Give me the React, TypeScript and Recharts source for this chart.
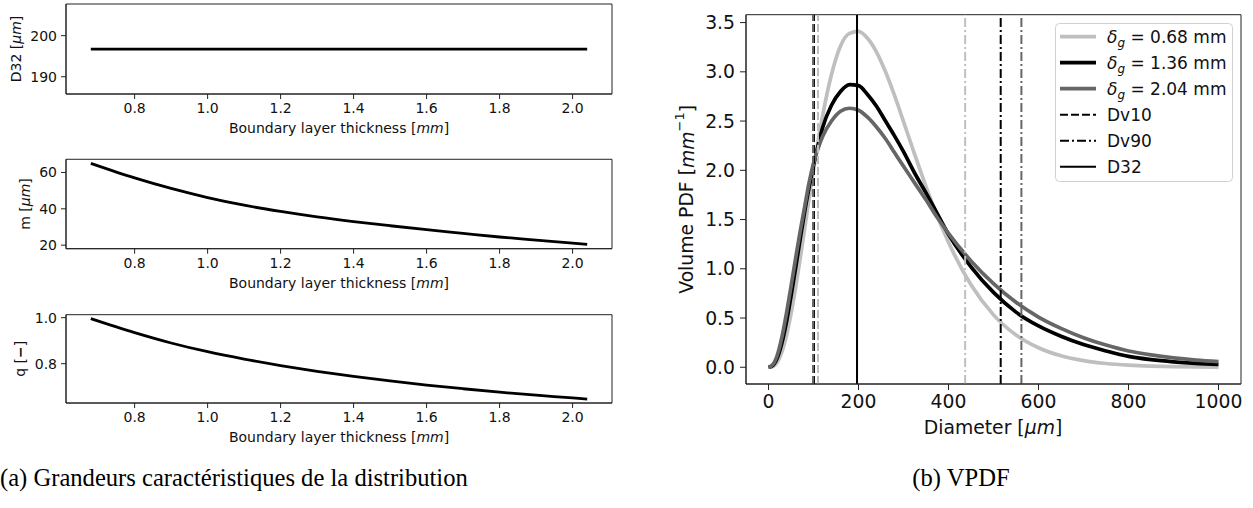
import React from 'react';
import { LineChart, Line, XAxis, YAxis, ReferenceLine, ReferenceArea, Legend, Label } from 'recharts';

const SANS = '"DejaVu Sans", sans-serif';
const SERIF = '"Liberation Serif", serif';

// ---------------- data: left panels ----------------
const thickness = [0.68, 0.8, 0.9, 1.0, 1.1, 1.2, 1.3, 1.4, 1.5, 1.6, 1.7, 1.8, 1.9, 2.0, 2.04];
const d32Values = [196.7, 196.7, 196.7, 196.7, 196.7, 196.7, 196.7, 196.7, 196.7, 196.7, 196.7, 196.7, 196.7, 196.7, 196.7];
const mValues = [65.0, 57.0, 51.2, 46.2, 42.0, 38.6, 35.6, 33.0, 30.7, 28.5, 26.5, 24.5, 22.8, 21.1, 20.4];
const qValues = [0.996, 0.935, 0.89, 0.852, 0.82, 0.792, 0.767, 0.745, 0.725, 0.707, 0.691, 0.676, 0.663, 0.651, 0.646];
const thicknessTicks = [0.8, 1.0, 1.2, 1.4, 1.6, 1.8, 2.0];
const d32Ticks = [190, 200];
const mTicks = [20, 40, 60];
const qTicks = [0.8, 1.0];

// ---------------- data: VPDF ----------------
const diameters = [0, 10, 20, 30, 40, 50, 60, 70, 80, 90, 100, 110, 120, 140, 160, 180, 200, 220, 240, 260, 280, 300, 325, 350, 375, 400, 450, 500, 550, 600, 650, 700, 750, 800, 850, 900, 950, 1000];
const vpdfThin = [0, 0.008, 0.055, 0.159, 0.323, 0.541, 0.801, 1.091, 1.396, 1.704, 2.004, 2.288, 2.548, 2.973, 3.263, 3.39, 3.41, 3.34, 3.2, 3.0, 2.76, 2.495, 2.159, 1.835, 1.537, 1.269, 0.837, 0.532, 0.328, 0.198, 0.116, 0.067, 0.038, 0.0215, 0.012, 0.0066, 0.0036, 0.002];
const vpdfMid = [0, 0.02, 0.1, 0.25, 0.46, 0.72, 1.0, 1.29, 1.57, 1.82, 2.05, 2.25, 2.43, 2.66, 2.8, 2.87, 2.86, 2.77, 2.65, 2.5, 2.35, 2.19, 1.97, 1.77, 1.56, 1.35, 1.02, 0.76, 0.56, 0.42, 0.315, 0.23, 0.165, 0.11, 0.077, 0.055, 0.04, 0.03];
const vpdfThick = [0, 0.03, 0.13, 0.31, 0.55, 0.82, 1.1, 1.37, 1.62, 1.87, 2.07, 2.22, 2.34, 2.5, 2.6, 2.63, 2.61, 2.54, 2.44, 2.32, 2.18, 2.04, 1.87, 1.7, 1.52, 1.36, 1.08, 0.85, 0.66, 0.51, 0.395, 0.3, 0.225, 0.165, 0.125, 0.095, 0.073, 0.057];
const deltaLabels = ['0.68', '1.36', '2.04'];
const seriesColors = ['#bfbfbf', '#000000', '#666666'];
const dv10Values = [110, 101, 99];
const dv90Values = [437, 516, 562];
const d32LineValues = [196.7, 196.7, 196.7];
const diameterTicks = [0, 200, 400, 600, 800, 1000];
const pdfTicks = [0, 0.5, 1.0, 1.5, 2.0, 2.5, 3.0, 3.5];

const SPINE = '#222';
const DASH = '8 3';
const DASHDOT = '9 3 2 3';
const THICK_DOMAIN: [number, number] = [0.612, 2.108];
const DIAM_DOMAIN: [number, number] = [-50, 1050];
const PDF_DOMAIN: [number, number] = [-0.17, 3.58];

type LeftProps = {
  top: number;
  plotTop: number;
  plotHeight: number;
  values: number[];
  domain: [number, number];
  ticks: number[];
  fmt: (v: number) => string;
  ylabel: React.ReactNode;
  ylabelX: number;
};

function LeftPanel({ top, plotTop, plotHeight, values, domain, ticks, fmt, ylabel, ylabelX }: LeftProps) {
  const data = thickness.map((t, i) => ({ t, v: values[i] }));
  const axisH = 50;
  const height = plotTop + plotHeight + axisH;
  const bottom = plotTop + plotHeight;
  const midY = plotTop + plotHeight / 2;
  return (
    <div style={{ position: 'absolute', left: 0, top }}>
      <LineChart width={620} height={height} data={data} margin={{ top: plotTop, right: 8, bottom: 0, left: 0 }}>
        <XAxis
          dataKey="t"
          type="number"
          domain={THICK_DOMAIN}
          ticks={thicknessTicks}
          tickFormatter={(v: number) => v.toFixed(1)}
          height={axisH}
          tickSize={5}
          tickMargin={4}
          stroke={SPINE}
          tick={{ fill: '#111', fontSize: 14, fontFamily: SANS }}
          allowDataOverflow
        >
          <Label
            content={() => (
              <text x={339} y={bottom + 39} textAnchor="middle" fontFamily={SANS} fontSize={14} fill="#111">
                Boundary layer thickness [<tspan fontStyle="italic">mm</tspan>]
              </text>
            )}
          />
        </XAxis>
        <YAxis
          type="number"
          domain={domain}
          ticks={ticks}
          tickFormatter={fmt}
          width={66}
          tickSize={5}
          tickMargin={4}
          stroke={SPINE}
          tick={{ fill: '#111', fontSize: 14, fontFamily: SANS }}
          allowDataOverflow
        >
          <Label
            content={() => (
              <text
                x={ylabelX}
                y={midY}
                transform={`rotate(-90 ${ylabelX} ${midY})`}
                textAnchor="middle"
                dominantBaseline="central"
                fontFamily={SANS}
                fontSize={14}
                fill="#111"
              >
                {ylabel}
              </text>
            )}
          />
        </YAxis>
        <ReferenceArea
          x1={THICK_DOMAIN[0]}
          x2={THICK_DOMAIN[1]}
          y1={domain[0]}
          y2={domain[1]}
          fill="none"
          fillOpacity={0}
          stroke={SPINE}
          strokeWidth={1}
          ifOverflow="visible"
        />
        <Line dataKey="v" type="monotone" stroke="#000" strokeWidth={2.8} dot={false} isAnimationActive={false} />
      </LineChart>
    </div>
  );
}

const LEG_FONT = 17;

function LegendBox() {
  const rowY = (i: number) => 13.7 + i * 26;
  const series = deltaLabels.map((d, i) => (
    <g key={'s' + i}>
      <line x1={5} x2={41} y1={rowY(i)} y2={rowY(i)} stroke={seriesColors[i]} strokeWidth={3.7} />
      <text x={52} y={rowY(i) + 6} fontFamily={SANS} fontSize={LEG_FONT} fill="#111">
        <tspan fontStyle="italic">δ</tspan>
        <tspan fontStyle="italic" fontSize={12} dy={4.5}>g</tspan>
        <tspan dy={-4.5}>{' = ' + d + ' mm'}</tspan>
      </text>
    </g>
  ));
  const refs = [
    { label: 'Dv10', dash: DASH },
    { label: 'Dv90', dash: DASHDOT },
    { label: 'D32', dash: undefined as string | undefined },
  ].map((r, j) => (
    <g key={'r' + j}>
      <line x1={5} x2={41} y1={rowY(3 + j)} y2={rowY(3 + j)} stroke="#000" strokeWidth={2} strokeDasharray={r.dash} />
      <text x={52} y={rowY(3 + j) + 6} fontFamily={SANS} fontSize={LEG_FONT} fill="#111">
        {r.label}
      </text>
    </g>
  ));
  return (
    <svg width={178} height={159} style={{ display: 'block' }}>
      <rect x={0.5} y={0.5} width={177} height={158} rx={4} ry={4} fill="rgba(255,255,255,0.8)" stroke="#d0d0d0" strokeWidth={1} />
      {series}
      {refs}
    </svg>
  );
}

function VpdfPanel() {
  const data = diameters.map((d, i) => ({ d, thin: vpdfThin[i], mid: vpdfMid[i], thick: vpdfThick[i] }));
  const plotTop = 14.7;
  const plotBottom = 384;
  const axisH = 60;
  const height = 508;
  const midY = (plotTop + plotBottom) / 2;
  const yLabX = 47;
  return (
    <div style={{ position: 'absolute', left: 640, top: 0 }}>
      <LineChart width={613} height={height} data={data} margin={{ top: plotTop, right: 12, bottom: height - plotBottom - axisH, left: 0 }}>
        <XAxis
          dataKey="d"
          type="number"
          domain={DIAM_DOMAIN}
          ticks={diameterTicks}
          height={axisH}
          tickSize={6}
          tickMargin={5}
          stroke={SPINE}
          tick={{ fill: '#111', fontSize: 18.8, fontFamily: SANS }}
          allowDataOverflow
        >
          <Label
            content={() => (
              <text x={353} y={plotBottom + 50} textAnchor="middle" fontFamily={SANS} fontSize={18.8} fill="#111">
                Diameter [<tspan fontStyle="italic">μm</tspan>]
              </text>
            )}
          />
        </XAxis>
        <YAxis
          type="number"
          domain={PDF_DOMAIN}
          ticks={pdfTicks}
          tickFormatter={(v: number) => v.toFixed(1)}
          width={106}
          tickSize={6}
          tickMargin={5}
          stroke={SPINE}
          tick={{ fill: '#111', fontSize: 18.8, fontFamily: SANS }}
          allowDataOverflow
        >
          <Label
            content={() => (
              <text
                x={yLabX}
                y={midY}
                transform={`rotate(-90 ${yLabX} ${midY})`}
                textAnchor="middle"
                dominantBaseline="central"
                fontFamily={SANS}
                fontSize={18.8}
                fill="#111"
              >
                Volume PDF [<tspan fontStyle="italic">mm</tspan>
                <tspan fontSize={13} dy={-8}>−1</tspan>
                <tspan dy={8}>]</tspan>
              </text>
            )}
          />
        </YAxis>
        <ReferenceArea
          x1={DIAM_DOMAIN[0]}
          x2={DIAM_DOMAIN[1]}
          y1={PDF_DOMAIN[0]}
          y2={PDF_DOMAIN[1]}
          fill="none"
          fillOpacity={0}
          stroke={SPINE}
          strokeWidth={1}
          ifOverflow="visible"
        />
        <Line dataKey="thin" type="monotone" stroke={seriesColors[0]} strokeWidth={3.7} dot={false} isAnimationActive={false} />
        <Line dataKey="mid" type="monotone" stroke={seriesColors[1]} strokeWidth={3.7} dot={false} isAnimationActive={false} />
        <Line dataKey="thick" type="monotone" stroke={seriesColors[2]} strokeWidth={3.7} dot={false} isAnimationActive={false} />
        {dv10Values.map((v, i) => (
          <ReferenceLine key={'dv10' + i} x={v} stroke={seriesColors[i]} strokeWidth={2} strokeDasharray={DASH} />
        ))}
        {dv90Values.map((v, i) => (
          <ReferenceLine key={'dv90' + i} x={v} stroke={seriesColors[i]} strokeWidth={2} strokeDasharray={DASHDOT} />
        ))}
        {[0, 2, 1].map((i) => (
          <ReferenceLine key={'d32' + i} x={d32LineValues[i]} stroke={seriesColors[i]} strokeWidth={2} />
        ))}
        <Legend
          layout="horizontal"
          verticalAlign="middle"
          align="center"
          wrapperStyle={{ left: 415, top: 23, width: 178, height: 159 }}
          content={() => <LegendBox />}
        />
      </LineChart>
    </div>
  );
}

export default function App() {
  return (
    <div style={{ position: 'absolute', left: 0, top: 0, width: 1253, height: 508, background: '#fff', overflow: 'hidden' }}>
      <LeftPanel
        top={0}
        plotTop={4}
        plotHeight={90}
        values={d32Values}
        domain={[185.8, 207.7]}
        ticks={d32Ticks}
        fmt={(v) => String(v)}
        ylabelX={16}
        ylabel={<>D32 [<tspan fontStyle="italic">μm</tspan>]</>}
      />
      <LeftPanel
        top={0}
        plotTop={159.3}
        plotHeight={89.4}
        values={mValues}
        domain={[18.07, 67.24]}
        ticks={mTicks}
        fmt={(v) => String(v)}
        ylabelX={25}
        ylabel={<>m [<tspan fontStyle="italic">μm</tspan>]</>}
      />
      <LeftPanel
        top={0}
        plotTop={314.7}
        plotHeight={88.3}
        values={qValues}
        domain={[0.629, 1.013]}
        ticks={qTicks}
        fmt={(v) => v.toFixed(1)}
        ylabelX={20}
        ylabel={<>q [<tspan fontWeight="bold">−</tspan>]</>}
      />
      <VpdfPanel />
      <svg width={1253} height={508} style={{ position: 'absolute', left: 0, top: 0, pointerEvents: 'none' }}>
        <text x={0} y={486} fontFamily={SERIF} fontSize={24.6} fill="#000">
          (a) Grandeurs caractéristiques de la distribution
        </text>
        <text x={961} y={486} textAnchor="middle" fontFamily={SERIF} fontSize={24.6} fill="#000">
          (b) VPDF
        </text>
      </svg>
    </div>
  );
}
